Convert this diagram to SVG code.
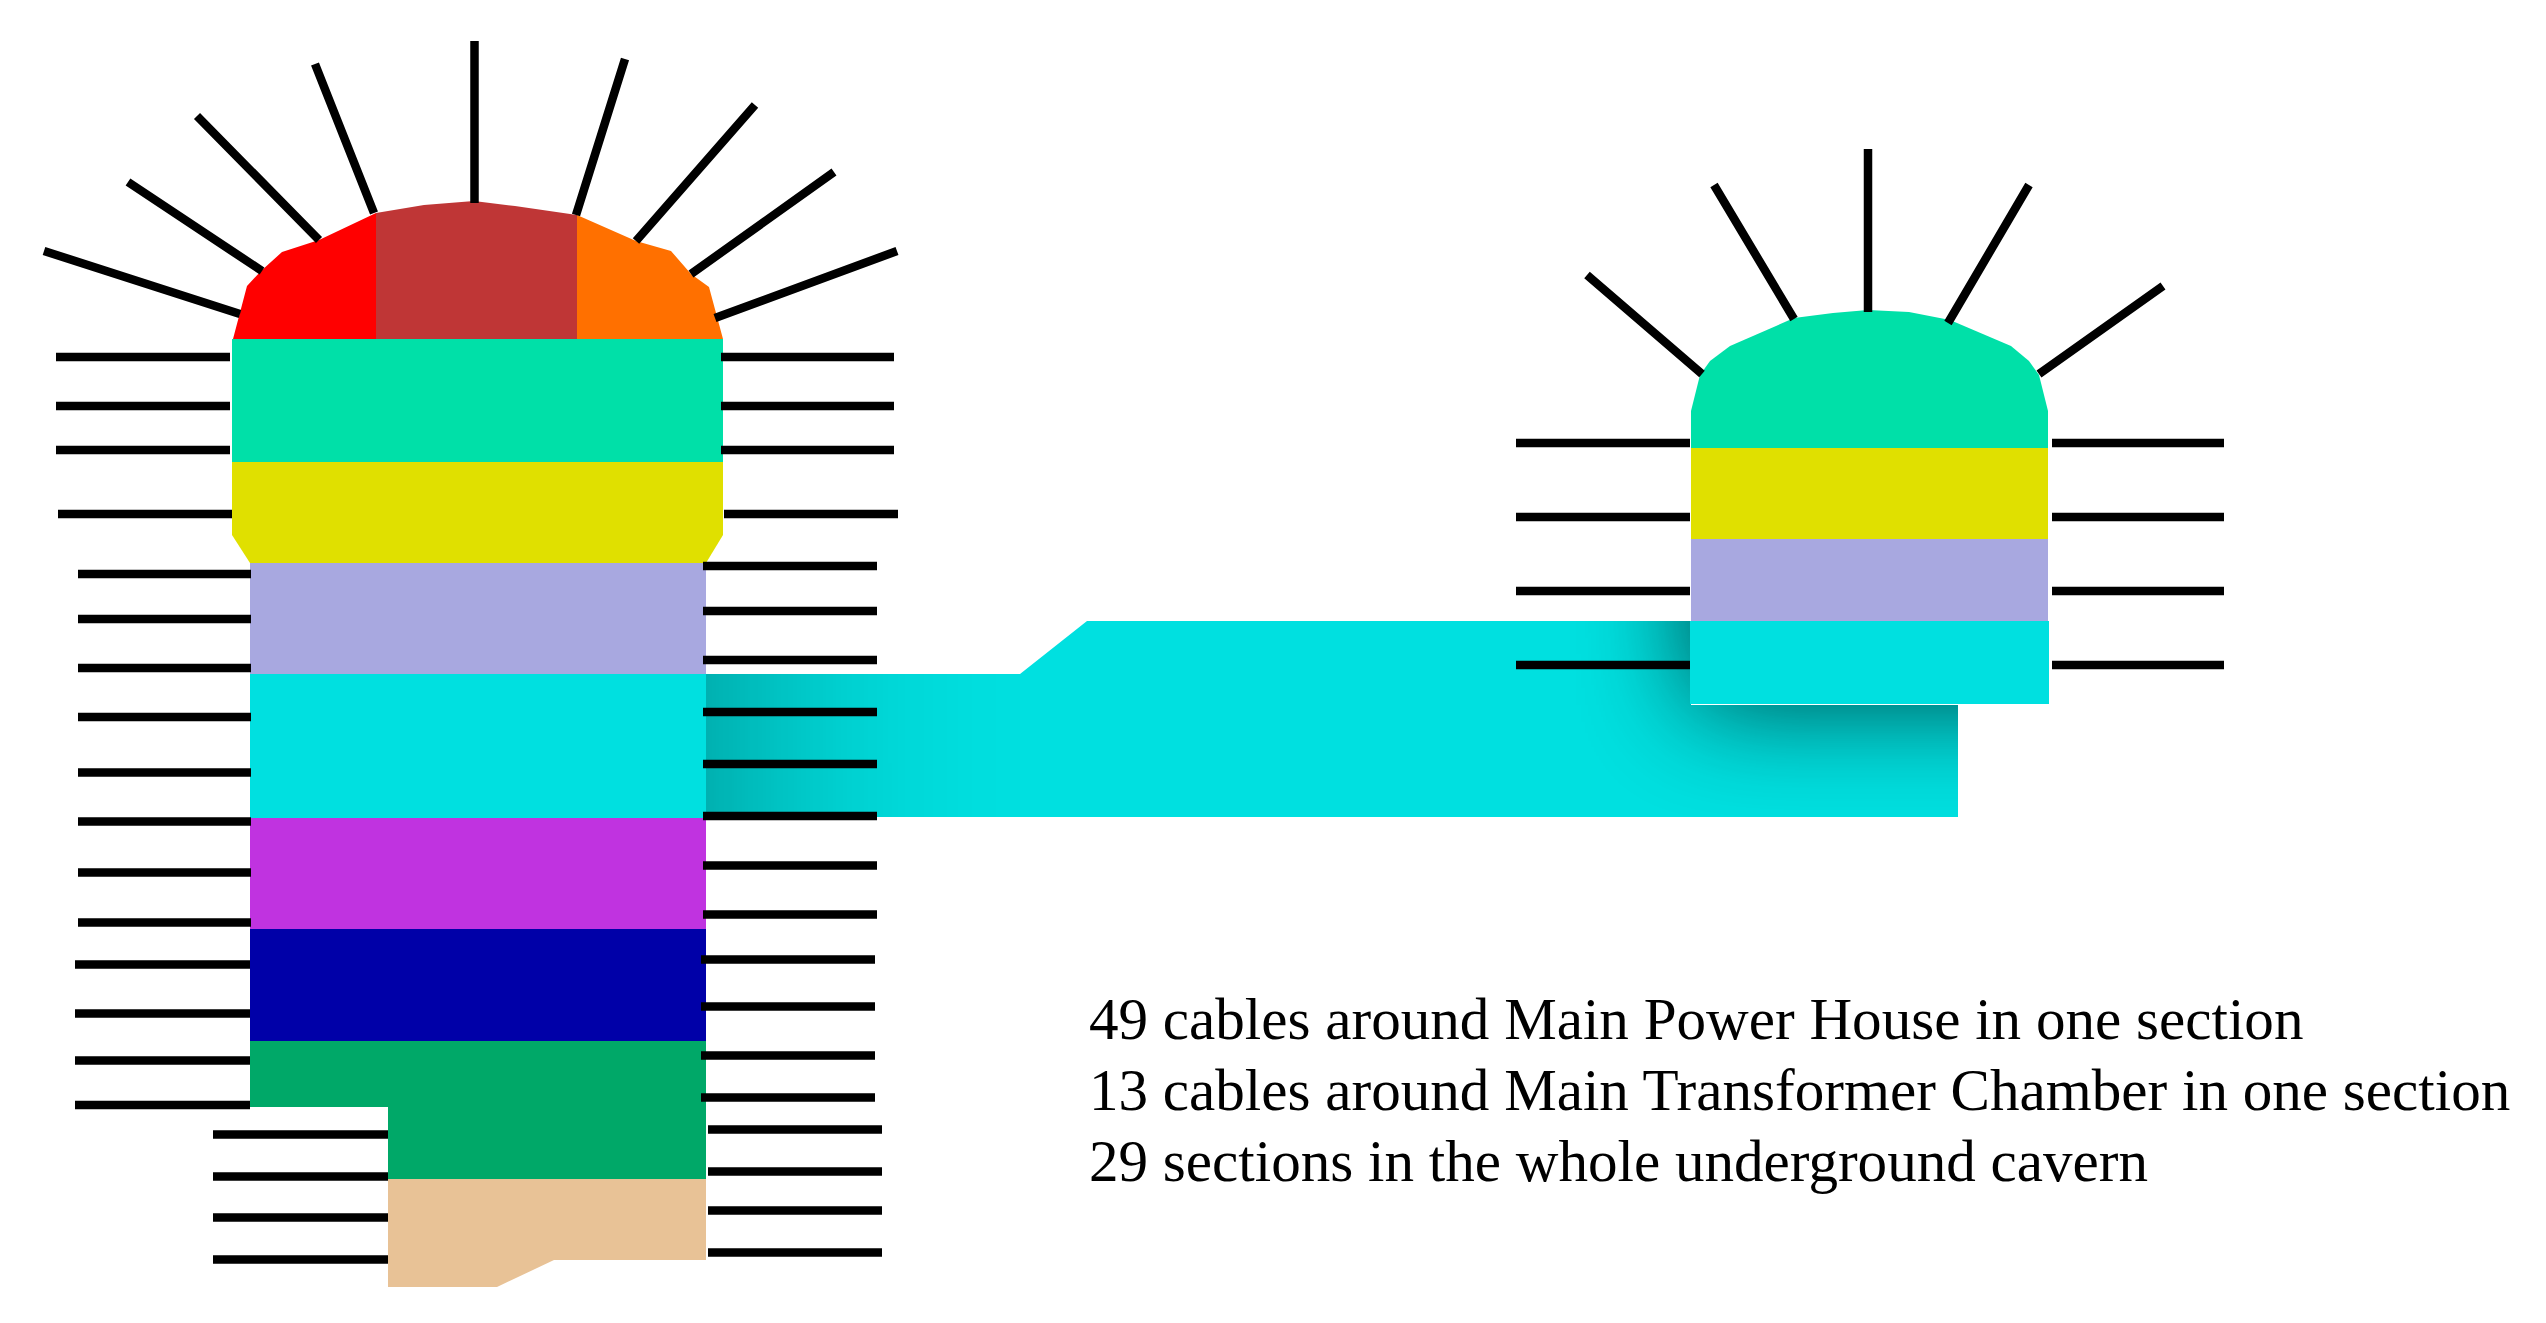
<svg xmlns="http://www.w3.org/2000/svg" width="2546" height="1323" viewBox="0 0 2546 1323">
<style>
.c{stroke:#000;stroke-width:8.500;fill:none}
.t{font-family:"Liberation Serif","Times New Roman",serif;font-size:59.100px;fill:#000}
</style>
<defs>
<clipPath id="cc"><polygon points="706,674 1020,674 1087,621 1691,621 1691,705 1958,705 1958,817 706,817"/></clipPath>
<filter id="bl" filterUnits="userSpaceOnUse" x="-300" y="100" width="1900" height="1300"><feGaussianBlur stdDeviation="150"/></filter>
<filter id="br" filterUnits="userSpaceOnUse" x="1300" y="300" width="1100" height="800"><feGaussianBlur stdDeviation="54"/></filter>
</defs>
<rect width="2546" height="1323" fill="#fff"/>
<g id="corridor">
<polygon points="706,674 1020,674 1087,621 1691,621 1691,705 1958,705 1958,817 706,817" fill="#00e0e0"/>
<g clip-path="url(#cc)">
<rect x="200" y="300" width="506" height="900" fill="#000" opacity=".42" filter="url(#bl)"/>
<rect x="1690" y="480" width="420" height="225" fill="#000" opacity=".68" filter="url(#br)"/>
</g>
</g>
<g id="main-power-house">
<polygon points="233,339 247,286 261,271 282,252 319,240 376,213 376,339" fill="#ff0000"/>
<polygon points="376,213 424,205 474,201 515,206 577,215 577,339 376,339" fill="#bf3636"/>
<polygon points="577,215 636,241 671,251 691,274 709,287 723,339 577,339" fill="#ff7000"/>
<rect x="232" y="339" width="491" height="123" fill="#00e0a8"/>
<polygon points="232,462 723,462 723,535 706,563 250,563 232,535" fill="#e0e000"/>
<rect x="250" y="563" width="456" height="111" fill="#a8a8e0"/>
<rect x="250" y="674" width="456" height="144" fill="#00e0e0"/>
<rect x="250" y="818" width="456" height="111" fill="#c033e0"/>
<rect x="250" y="929" width="456" height="112" fill="#0000a8"/>
<polygon points="250,1041 706,1041 706,1179 388,1179 388,1107 250,1107" fill="#00a868"/>
<polygon points="388,1179 706,1179 706,1260 554,1260 497,1287 388,1287" fill="#e8c296"/>
</g>
<g id="main-transformer-chamber">
<path d="M1691,448V411L1700,375L1710,361L1730,346L1794,318L1833,313L1868,310L1909,312L1950,320L2011,346L2029,361L2039,375L2048,411V448Z" fill="#00e0a8"/>
<rect x="1691" y="448" width="357" height="91" fill="#e0e000"/>
<rect x="1691" y="539" width="357" height="82" fill="#a8a8e0"/>
<rect x="1690" y="621" width="359" height="83" fill="#00e0e0"/>
</g>
<g id="connectors" class="c">
<path class="c" d="M44,251L240,314M128,182L262,271M197,116L319,240M315,64L374,213M474.500,41V203M625,59L576,215M755,105L636,241M834,172L691,274M897,251L715,318"/>
<path class="c" d="M56,357H230M56,406H230M56,450H230M58,514H232M721,357H894M721,406H894M721,450H894M724,514H898"/>
<path class="c" d="M78,574H251M78,619H251M78,668H251M78,717H251M78,772.500H251M78,821.500H251M78,872.500H251M78,922.500H251M75,964.500H250M75,1013.500H250M75,1060.500H250M75,1105H250M213,1134.500H388M213,1176.500H388M213,1217.500H388M213,1259.500H388"/>
<path class="c" d="M703,566H877M703,611H877M703,660H877M703,712H877M703,764H877M703,816H877M703,865.500H877M703,914.500H877M701,959.500H875M701,1006.500H875M701,1055.500H875M701,1097.500H875M708,1129.500H882M708,1171.500H882M708,1210.500H882M708,1252.500H882"/>
<path class="c" d="M1587,275L1702,374M1714,185L1794,319M1868,149V312M2029,185L1948,323M2163,286L2039,374"/>
<path class="c" d="M1516,443H1690M1516,517H1690M1516,591H1690M1516,665H1690M2052,443H2224M2052,517H2224M2052,591H2224M2052,665H2224"/>
</g>
<g id="notes">
<text class="t" x="1089" y="1039">49 cables around Main Power House in one section</text>
<text class="t" x="1089" y="1110">13 cables around Main Transformer Chamber in one section</text>
<text class="t" x="1089" y="1181">29 sections in the whole underground cavern</text>
</g>
</svg>
